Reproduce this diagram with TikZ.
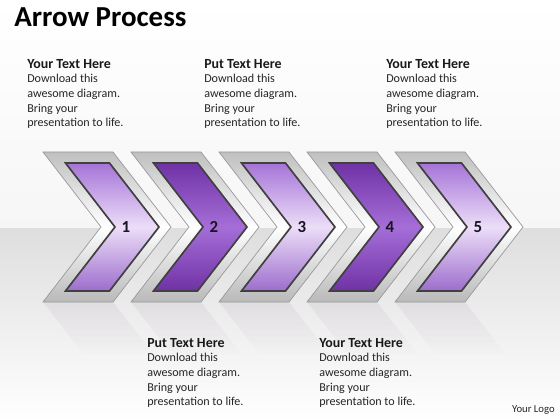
\documentclass[tikz,border=0pt]{standalone}
\usepackage{fontspec}
\setmainfont{Carlito}
\usetikzlibrary{fadings}

\definecolor{lilactop}{RGB}{165,115,215}
\definecolor{lilacmid}{RGB}{236,222,248}
\definecolor{plumtop}{RGB}{112,50,165}
\definecolor{plummid}{RGB}{165,110,215}
\definecolor{inktext}{RGB}{25,20,35}

\tikzset{
  frame/.style={top color=gray!50, bottom color=gray!55, middle color=white, draw=gray!80, line width=0.5pt},
  lightfill/.style={top color=lilactop, bottom color=lilactop!95!black, middle color=lilacmid, draw=black!75, line width=1.2pt},
  darkfill/.style={top color=plumtop, bottom color=plumtop, middle color=plummid, draw=black!75, line width=1.2pt},
  reflect/.style={fill=violet!25!gray!55, fill opacity=0.45, path fading=south},
  num/.style={font=\fontsize{12}{12}\selectfont\bfseries, text=inktext, inner sep=0pt},
  blurb/.style={anchor=north west, align=left, inner sep=0pt, font=\fontsize{8.6}{10.4}\selectfont, text=black!85},
}
\newcommand{\head}[1]{{\fontsize{9.9}{10.4}\selectfont\bfseries\color{black!90}#1}}

\begin{document}
\begin{tikzpicture}[x=0.025cm, y=-0.025cm]
    \useasboundingbox (0,0) rectangle (560,420);
    \shade[top color=white, bottom color=gray!7] (0,0) rectangle (560,228);
    \shade[top color=gray!26, bottom color=white] (0,228) rectangle (560,420);

    \def\chev#1#2#3{
      \coordinate (c#3) at (#1,227);
      \fill[reflect] (c#3) ++(0,75) -- ++(70,0) -- ++(42,54) -- ++(-70,0) -- cycle;
      \shade[frame] (c#3) ++(0,-75) -- ++(70,0) -- ++(58,75) -- ++(-58,75) -- ++(-70,0) -- ++(58,-75) -- cycle;
      \shade[#2] (c#3) ++(22.5,-64) -- ++(44,0) -- ++(49.5,64) -- ++(-49.5,64) -- ++(-44,0) -- ++(49.5,-64) -- cycle;
      \path (c#3) ++(83,0) node[num] (n#3) {#3};
    }
    \chev{43}{lightfill}{1}
    \chev{131}{darkfill}{2}
    \chev{219}{lightfill}{3}
    \chev{307}{darkfill}{4}
    \chev{395}{lightfill}{5}

    \node[anchor=base west, inner sep=0pt, font=\fontsize{20.6}{22}\selectfont\bfseries] (title) at (14,27) {Arrow Process};

    \node[blurb] (t1) at (27,59) {\head{Your Text Here}\\ Download this\\ awesome diagram.\\ Bring your\\ presentation to life.};
    \node[blurb] (t2) at (204,59) {\head{Put Text Here}\\ Download this\\ awesome diagram.\\ Bring your\\ presentation to life.};
    \node[blurb] (t3) at (386,59) {\head{Your Text Here}\\ Download this\\ awesome diagram.\\ Bring your\\ presentation to life.};
    \node[blurb] (t4) at (147,338) {\head{Put Text Here}\\ Download this\\ awesome diagram.\\ Bring your\\ presentation to life.};
    \node[blurb] (t5) at (319,338) {\head{Your Text Here}\\ Download this\\ awesome diagram.\\ Bring your\\ presentation to life.};

    \node[anchor=base east, inner sep=0pt, font=\fontsize{7.6}{8}\selectfont, text=black!85] (logo) at (555,412) {Your Logo};
\end{tikzpicture}
\end{document}
